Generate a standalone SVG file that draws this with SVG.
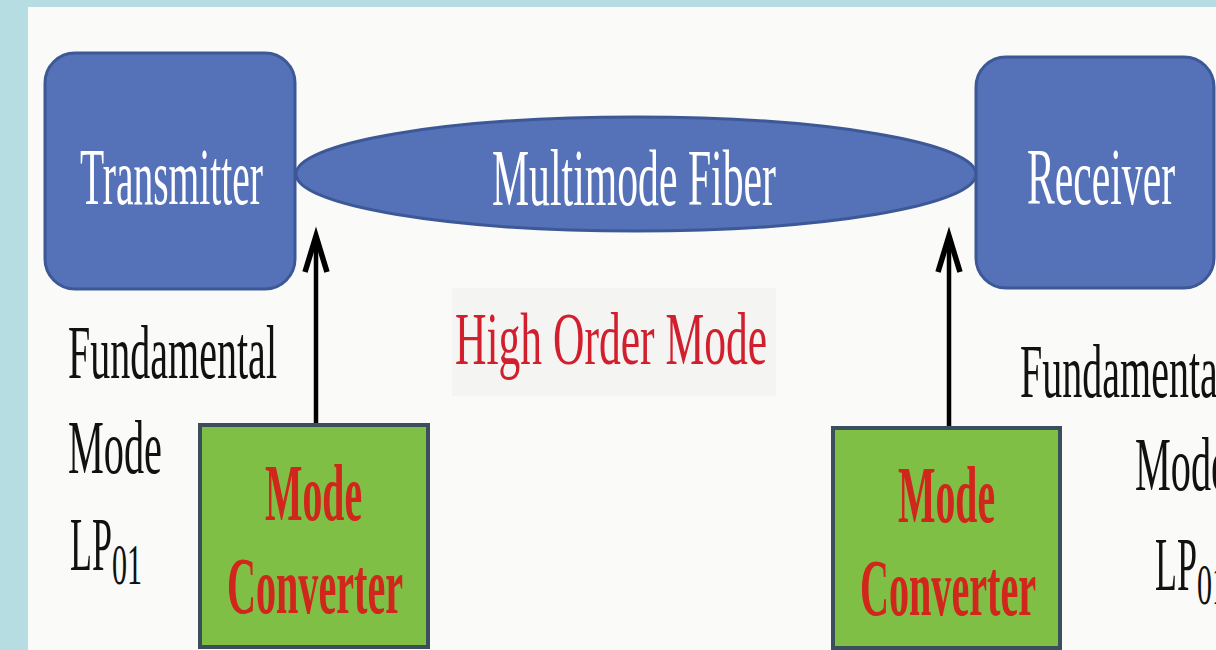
<svg xmlns="http://www.w3.org/2000/svg" width="1216" height="650" viewBox="0 0 1216 650">
  <style>
    .blue { fill: #5571b7; stroke: #3d5896; stroke-width: 3; }
    .green { fill: #7fbf45; stroke: #3b4e5c; stroke-width: 4; }
    .wt { font-family: "Liberation Serif", "Times New Roman", serif; fill: #ffffff; font-size: 80px; }
    .lbl { font-family: "Liberation Serif", "Times New Roman", serif; fill: #111111; font-size: 76px; }
    .mc { font-family: "Liberation Serif", "Times New Roman", serif; fill: #d0261b; font-size: 80px; font-weight: bold; }
    .hom { font-family: "Liberation Serif", "Times New Roman", serif; fill: #d21f2d; font-size: 74px; }
    .conn { stroke: #000000; stroke-width: 4.5; fill: none; }
  </style>
  <defs>
    <marker id="arrow" markerUnits="userSpaceOnUse" markerWidth="60" markerHeight="60" refX="0" refY="0" orient="auto" overflow="visible">
      <polyline points="-36,-11 0,0 -36,11" fill="none" stroke="#000000" stroke-width="5.5" stroke-linejoin="miter" stroke-miterlimit="10"/>
    </marker>
  </defs>

  <!-- background -->
  <rect x="0" y="0" width="1216" height="650" fill="#b6dde2"/>
  <rect x="28" y="7" width="1188" height="643" fill="#fafaf8"/>
  <rect x="452" y="288" width="324" height="108" fill="#f4f4f3"/>

  <g id="connectors">
    <line class="conn" x1="316" y1="425" x2="316" y2="236" marker-end="url(#arrow)"/>
    <line class="conn" x1="949" y1="428" x2="949" y2="236" marker-end="url(#arrow)"/>
  </g>

  <g id="transmitter">
    <rect class="blue" x="45" y="53" width="250" height="236" rx="30" ry="30"/>
    <text class="wt" x="80" y="204" textLength="183" lengthAdjust="spacingAndGlyphs">Transmitter</text>
  </g>

  <g id="fiber">
    <ellipse class="blue" cx="636" cy="174" rx="340" ry="57"/>
    <text class="wt" x="492" y="205" textLength="284" lengthAdjust="spacingAndGlyphs" font-size="76">Multimode Fiber</text>
  </g>

  <g id="receiver">
    <rect class="blue" x="976" y="57" width="238" height="231" rx="30" ry="30"/>
    <text class="wt" x="1027" y="204" textLength="148" lengthAdjust="spacingAndGlyphs">Receiver</text>
  </g>

  <g id="converter-left">
    <rect class="green" x="200" y="425" width="228" height="222"/>
    <text class="mc" x="265" y="520" textLength="97" lengthAdjust="spacingAndGlyphs">Mode</text>
    <text class="mc" x="227" y="613" textLength="176" lengthAdjust="spacingAndGlyphs">Converter</text>
  </g>

  <g id="converter-right">
    <rect class="green" x="833" y="428" width="227" height="220"/>
    <text class="mc" x="898" y="522" textLength="97" lengthAdjust="spacingAndGlyphs">Mode</text>
    <text class="mc" x="860" y="615" textLength="176" lengthAdjust="spacingAndGlyphs">Converter</text>
  </g>

  <g id="label-left">
    <text class="lbl" x="68" y="378" textLength="209" lengthAdjust="spacingAndGlyphs">Fundamental</text>
    <text class="lbl" x="68" y="473" textLength="94" lengthAdjust="spacingAndGlyphs">Mode</text>
    <text class="lbl" x="70" y="570"><tspan textLength="42" lengthAdjust="spacingAndGlyphs">LP</tspan><tspan dy="14" font-size="56" textLength="30" lengthAdjust="spacingAndGlyphs">01</tspan></text>
  </g>

  <g id="label-center">
    <text class="hom" x="455" y="364" textLength="312" lengthAdjust="spacingAndGlyphs">High Order Mode</text>
  </g>

  <g id="label-right">
    <text class="lbl" x="1020" y="397" textLength="209" lengthAdjust="spacingAndGlyphs">Fundamental</text>
    <text class="lbl" x="1135" y="490" textLength="94" lengthAdjust="spacingAndGlyphs">Mode</text>
    <text class="lbl" x="1155" y="590"><tspan textLength="42" lengthAdjust="spacingAndGlyphs">LP</tspan><tspan dy="14" font-size="56" textLength="30" lengthAdjust="spacingAndGlyphs">01</tspan></text>
  </g>
</svg>
